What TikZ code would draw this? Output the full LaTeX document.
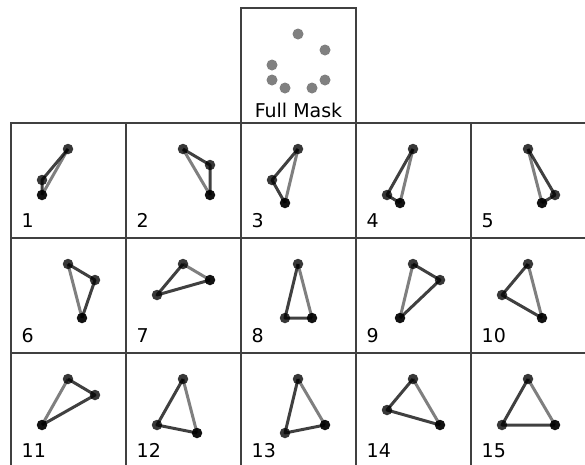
\documentclass[tikz,border=0pt]{standalone}
\usepackage{fontspec}
\setmainfont{DejaVu Sans}
\definecolor{gridc}{HTML}{404040}
\definecolor{maskc}{HTML}{808080}
\tikzset{
  gridline/.style={draw=gridc, line width=1.4pt},
  darkedge/.style={draw=black, draw opacity=0.75, line width=3pt, line join=round},
  grayedge/.style={draw=black, draw opacity=0.5, line width=3pt},
  dotdark/.style={circle, fill=black, fill opacity=0.78, inner sep=0pt, minimum size=10.5pt},
  dotlast/.style={circle, fill=black, fill opacity=0.93, inner sep=0pt, minimum size=10.5pt},
  maskdot/.style={circle, fill=maskc, inner sep=0pt, minimum size=11pt},
  celllabel/.style={anchor=base west, font=\fontsize{19}{22}\selectfont, inner sep=0pt},
  masklabel/.style={anchor=base, font=\fontsize{19}{22}\selectfont, inner sep=0pt}
}
\newcommand\mkcell[6]{%
\begin{scope}[shift={({11+115*#1},{123+115*#2})}]
  \draw[gridline] (0,0) rectangle (115,115);
  \foreach \i/\px/\py in {0/57/26,1/84/42,2/31/57,3/31/72,4/44/80,5/71/80,6/84/72}
    {\coordinate (c#3-\i) at (\px,\py);}
  \draw[darkedge] (c#3-#4) -- (c#3-#5) -- (c#3-#6);
  \draw[grayedge] (c#3-#6) -- (c#3-#4);
  \node[dotdark] (d#3a) at (c#3-#4) {};
  \node[dotdark] (d#3b) at (c#3-#5) {};
  \node[dotlast] (d#3c) at (c#3-#6) {};
  \node[celllabel] (l#3) at (10.5,104) {#3};
\end{scope}}
\begin{document}
\begin{tikzpicture}[x=1pt,y=-1pt]
  \useasboundingbox (0,0) rectangle (585,464);
  \clip (0,0) rectangle (585,464);
  \begin{scope}[shift={(241,8)}]
    \draw[gridline] (0,0) rectangle (115,115);
    \foreach \i/\px/\py in {0/57/26,1/84/42,2/31/57,3/31/72,4/44/80,5/71/80,6/84/72}
      {\node[maskdot] (m\i) at (\px,\py) {};}
    \node[masklabel] (fm) at (57.5,109) {Full Mask};
  \end{scope}
  \mkcell{0}{0}{1}{0}{2}{3}
  \mkcell{1}{0}{2}{0}{1}{6}
  \mkcell{2}{0}{3}{0}{2}{4}
  \mkcell{3}{0}{4}{0}{3}{4}
  \mkcell{4}{0}{5}{0}{6}{5}
  \mkcell{0}{1}{6}{0}{1}{5}
  \mkcell{1}{1}{7}{0}{2}{1}
  \mkcell{2}{1}{8}{0}{4}{5}
  \mkcell{3}{1}{9}{0}{1}{4}
  \mkcell{4}{1}{10}{0}{2}{5}
  \mkcell{0}{2}{11}{0}{1}{3}
  \mkcell{1}{2}{12}{0}{3}{5}
  \mkcell{2}{2}{13}{0}{4}{6}
  \mkcell{3}{2}{14}{0}{2}{6}
  \mkcell{4}{2}{15}{0}{3}{6}
\end{tikzpicture}
\end{document}
